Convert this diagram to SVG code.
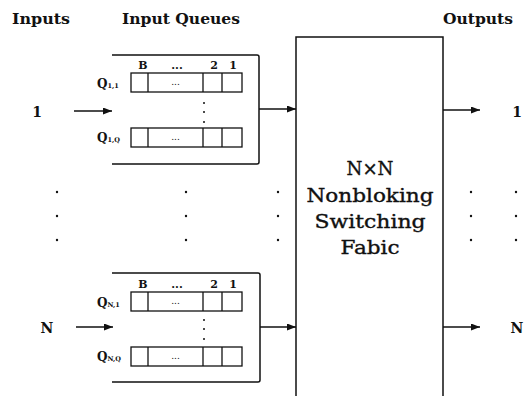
<svg xmlns="http://www.w3.org/2000/svg" width="524" height="396" viewBox="0 0 524 396">
<style>
.lbl{font-family:"DejaVu Serif","Liberation Serif",serif;font-weight:bold;fill:#111}
.big{font-family:"DejaVu Serif","Liberation Serif",serif;font-size:18px;fill:#111;stroke:#111;stroke-width:0.35;text-anchor:middle}
.hdr{font-family:"DejaVu Serif","Liberation Serif",serif;font-weight:bold;font-size:11px;fill:#111;text-anchor:middle}
.q{font-family:"DejaVu Serif","Liberation Serif",serif;font-weight:bold;font-size:12px;fill:#111}
.sub{font-size:6.5px}
.ln{fill:none;stroke:#111;stroke-width:1.5}
.cell{fill:#fff;stroke:#111;stroke-width:1.3}
.dot{fill:#111}
</style>
<defs>
<marker id="ah" markerWidth="9" markerHeight="7" refX="9" refY="3.5" orient="auto" markerUnits="userSpaceOnUse">
<path d="M0,0 L9,3.5 L0,7 Z" fill="#111"/>
</marker>
<g id="rowcells">
<rect class="cell" x="131" y="0" width="111" height="19"/>
<line class="ln" x1="148" y1="0" x2="148" y2="19" style="stroke-width:1.3"/>
<line class="ln" x1="203" y1="0" x2="203" y2="19" style="stroke-width:1.3"/>
<line class="ln" x1="222" y1="0" x2="222" y2="19" style="stroke-width:1.3"/>
<text class="hdr" x="175.5" y="12" style="font-weight:normal;font-size:9px">...</text>
</g>
</defs>
<rect width="524" height="396" fill="#fff"/>

<g id="titles">
<text class="lbl" x="12" y="24" font-size="14" textLength="58" lengthAdjust="spacingAndGlyphs">Inputs</text>
<text class="lbl" x="122" y="24" font-size="14" textLength="118" lengthAdjust="spacingAndGlyphs">Input Queues</text>
<text class="lbl" x="443" y="24" font-size="14" textLength="70" lengthAdjust="spacingAndGlyphs">Outputs</text>
</g>

<g id="in1"><text class="lbl" x="37" y="117" font-size="14" text-anchor="middle">1</text></g>
<g id="inN"><text class="lbl" x="47" y="333" font-size="14" text-anchor="middle">N</text></g>

<g id="queue1">
<path class="ln" d="M112,55 H257 Q259,55 259,57 V162 Q259,164 257,164 H112"/>
<text class="hdr" x="143" y="69">B</text>
<text class="hdr" x="177" y="69">...</text>
<text class="hdr" x="214" y="69">2</text>
<text class="hdr" x="233" y="69">1</text>
<text class="q" x="97" y="88">Q<tspan class="sub">1,1</tspan></text>
<use href="#rowcells" y="73"/>
<circle class="dot" cx="204" cy="103" r="1"/>
<circle class="dot" cx="204" cy="112" r="1"/>
<circle class="dot" cx="204" cy="122" r="1"/>
<text class="q" x="97" y="142">Q<tspan class="sub">1,Q</tspan></text>
<use href="#rowcells" y="128"/>
</g>

<g id="queueN">
<path class="ln" d="M112,273 H258 Q260,273 260,275 V380 Q260,382 258,382 H112"/>
<text class="hdr" x="143" y="288">B</text>
<text class="hdr" x="177" y="288">...</text>
<text class="hdr" x="214" y="288">2</text>
<text class="hdr" x="233" y="288">1</text>
<text class="q" x="97" y="307">Q<tspan class="sub">N,1</tspan></text>
<use href="#rowcells" y="292"/>
<circle class="dot" cx="204" cy="320" r="1"/>
<circle class="dot" cx="204" cy="329" r="1"/>
<circle class="dot" cx="204" cy="339" r="1"/>
<text class="q" x="97" y="361">Q<tspan class="sub">N,Q</tspan></text>
<use href="#rowcells" y="347"/>
</g>

<g id="fabric">
<path class="ln" d="M296,400 V37 H443 V400"/>
<text class="big" x="370" y="175" textLength="47" lengthAdjust="spacingAndGlyphs">N×N</text>
<text class="big" x="370" y="202" textLength="127" lengthAdjust="spacingAndGlyphs">Nonbloking</text>
<text class="big" x="370" y="228" textLength="111" lengthAdjust="spacingAndGlyphs">Switching</text>
<text class="big" x="370" y="254" textLength="59" lengthAdjust="spacingAndGlyphs">Fabic</text>
</g>

<g id="out1"><text class="lbl" x="517" y="117" font-size="14" text-anchor="middle">1</text></g>
<g id="outN"><text class="lbl" x="517" y="333" font-size="14" text-anchor="middle">N</text></g>

<g id="ellipses">
<circle class="dot" cx="57" cy="192" r="1.2"/><circle class="dot" cx="57" cy="216" r="1.2"/><circle class="dot" cx="57" cy="240" r="1.2"/>
<circle class="dot" cx="186" cy="192" r="1.2"/><circle class="dot" cx="186" cy="216" r="1.2"/><circle class="dot" cx="186" cy="240" r="1.2"/>
<circle class="dot" cx="278" cy="192" r="1.2"/><circle class="dot" cx="278" cy="216" r="1.2"/><circle class="dot" cx="278" cy="240" r="1.2"/>
<circle class="dot" cx="471" cy="192" r="1.2"/><circle class="dot" cx="471" cy="216" r="1.2"/><circle class="dot" cx="471" cy="240" r="1.2"/>
<circle class="dot" cx="516" cy="192" r="1.2"/><circle class="dot" cx="516" cy="216" r="1.2"/><circle class="dot" cx="516" cy="240" r="1.2"/>
</g>

<g id="connectors">
<line class="ln" x1="74" y1="111" x2="112" y2="111" marker-end="url(#ah)"/>
<line class="ln" x1="76" y1="327" x2="113" y2="327" marker-end="url(#ah)"/>
<line class="ln" x1="259" y1="109" x2="296" y2="109" marker-end="url(#ah)"/>
<line class="ln" x1="260" y1="327" x2="296" y2="327" marker-end="url(#ah)"/>
<line class="ln" x1="443" y1="110" x2="480" y2="110" marker-end="url(#ah)"/>
<line class="ln" x1="443" y1="327" x2="480" y2="327" marker-end="url(#ah)"/>
</g>
</svg>
